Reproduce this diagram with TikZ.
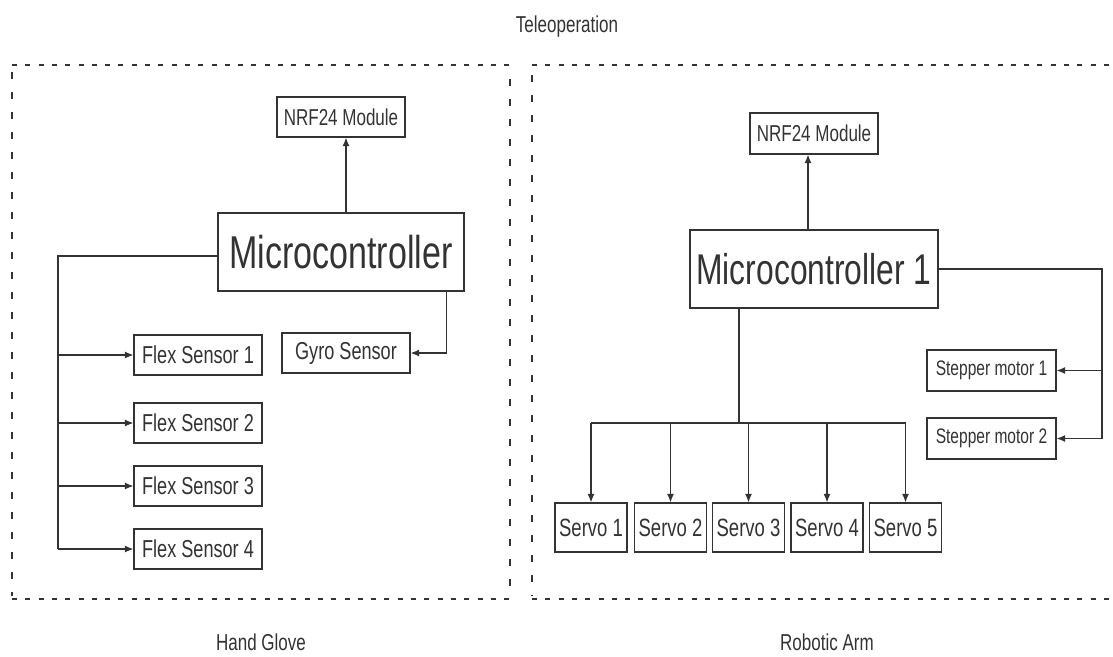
\documentclass[tikz,border=0pt]{standalone}
\usepackage{fontspec}
\setmainfont{Liberation Sans}[FakeStretch=0.74]
\usetikzlibrary{arrows.meta}
\definecolor{ink}{HTML}{333333}

\begin{document}
\begin{tikzpicture}[x=1pt,y=-1pt,
  box/.style={draw=ink, line width=1.3pt, inner sep=0pt, text=ink,
    minimum width=128pt, minimum height=40pt, font=\fontsize{24.5}{28}\selectfont},
  small/.style={font=\fontsize{23}{27}\selectfont},
  motor/.style={box, minimum width=129pt, minimum height=41pt, font=\fontsize{21}{25}\selectfont},
  servo/.style={box, minimum width=72pt, minimum height=49pt, font=\fontsize{25}{28}\selectfont},
  mcbox/.style={box, line width=2.4pt, minimum height=78pt},
  wire/.style={draw=ink, line width=1.1pt},
  arr/.style={wire, -{Latex[length=8.5pt,width=7pt]}},
  hdots/.style={draw=ink, line width=2.6pt, dash pattern=on 5pt off 8.3pt},
  vdots/.style={draw=ink, line width=2.2pt, dash pattern=on 7pt off 13pt},
  lbl/.style={text=ink, font=\fontsize{23}{27}\selectfont, anchor=base, inner sep=0pt}]

\useasboundingbox (0,0) rectangle (1113,656);

% captions
\node[lbl] (title) at (567,32) {Teleoperation};
\node[lbl] (glove) at (261,650) {Hand Glove};
\node[lbl] (arm) at (827,650) {Robotic Arm};

% dotted frames
\draw[hdots] (12,65) -- (510,65);
\draw[hdots] (12,599) -- (510,599);
\draw[vdots] (12,72) -- (12,596);
\draw[vdots] (510,79) -- (510,596);
\draw[hdots] (532,65) -- (1110,65);
\draw[hdots] (532,599) -- (1110,599);
\draw[vdots] (532,75) -- (532,596);

% ---- hand glove ----
\node[box, small] (nrfL) at (341,117) {NRF24 Module};
\node[mcbox, minimum width=246pt, font=\fontsize{46}{50}\selectfont] (mcL) at (341,252) {Microcontroller};
\node[box] (flex1) at (198,355) {Flex Sensor 1};
\node[box] (gyro) at (346,353) {Gyro Sensor};
\node[box] (flex2) at (198,423) {Flex Sensor 2};
\node[box] (flex3) at (198,486) {Flex Sensor 3};
\node[box] (flex4) at (198,549) {Flex Sensor 4};

\coordinate (trunkL) at (58,0);
\draw[arr] ([xshift=5pt]mcL.north) -- ([xshift=5pt]nrfL.south);
\draw[wire] ([yshift=-4pt]mcL.west) -| (trunkL |- flex4.west);
\draw[arr] (trunkL |- flex1.west) -- (flex1.west);
\draw[arr] (trunkL |- flex2.west) -- (flex2.west);
\draw[arr] (trunkL |- flex3.west) -- (flex3.west);
\draw[arr] (trunkL |- flex4.west) -- (flex4.west);
\draw[arr] ([xshift=-19pt]mcL.south east) |- (gyro.east);

% ---- robotic arm ----
\node[box, small, minimum height=41pt] (nrfR) at (814,133.5) {NRF24 Module};
\node[mcbox, minimum width=248pt, font=\fontsize{43}{48}\selectfont] (mcR) at (814,269) {Microcontroller 1};
\node[servo] (s1) at (591,527.5) {Servo 1};
\node[servo] (s2) at (670.5,527.5) {Servo 2};
\node[servo] (s3) at (748.5,527.5) {Servo 3};
\node[servo] (s4) at (827,527.5) {Servo 4};
\node[servo] (s5) at (905.5,527.5) {Servo 5};
\node[motor] (m1) at (991.5,370.5) {Stepper motor 1};
\node[motor] (m2) at (991.5,438.5) {Stepper motor 2};

\draw[arr] ([xshift=-6pt]mcR.north) -- ([xshift=-6pt]nrfR.south);

\coordinate (bus) at (0,423);
\coordinate (trunkR) at (739,0);
\draw[wire] (trunkR |- mcR.south) -- (trunkR |- bus);
\draw[wire] (s1.north |- bus) -- (s5.north |- bus);
\foreach \s in {s1,s2,s3,s4,s5}
  \draw[arr] (\s.north |- bus) -- (\s.north);

\coordinate (sideR) at (1102,0);
\draw[wire] (mcR.east) -| (sideR |- m2.east);
\draw[arr] (sideR |- m1.east) -- (m1.east);
\draw[arr] (sideR |- m2.east) -- (m2.east);
\end{tikzpicture}
\end{document}
